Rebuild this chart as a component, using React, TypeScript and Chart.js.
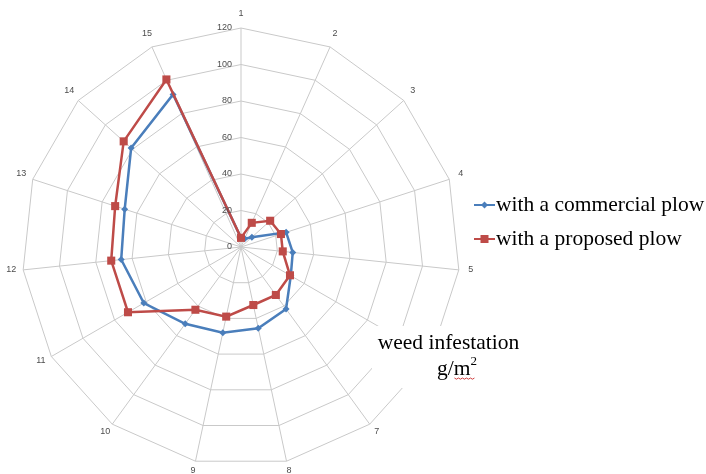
import { useEffect, useRef } from 'react';
import { Chart, registerables } from 'chart.js';

Chart.register(...registerables);

const AXIS_LABELS = ['1', '2', '3', '4', '5', '6', '7', '8', '9', '10', '11', '12', '13', '14', '15'];
const HIDDEN_LABEL_INDEX = 5; // label "6" sits under the annotation box
const COMMERCIAL = [5, 5, 8, 26, 28.5, 31.5, 42, 45.5, 48, 52, 61.5, 66, 67, 81, 91.5];
const PROPOSED = [5, 14.5, 21.5, 23, 23, 31, 32.5, 32.5, 39, 42.5, 71.5, 71.5, 72.5, 86.5, 100.5];
const TICK_VALUES = [0, 20, 40, 60, 80, 100, 120];
const SERIES_NAMES = ['with a commercial plow', 'with a proposed plow'];
const ANNOTATION_LINE1 = 'weed infestation';
const ANNOTATION_UNIT = 'g/m';
const ANNOTATION_SUP = '2';

const BLUE = '#4a7ebb';
const RED = '#be4b48';
const GRID = '#c9c9c9';
const LABEL_COLOR = '#4d4d4d';
const SANS = '"Liberation Sans", Arial, sans-serif';
const SERIF = '"Liberation Serif", "Times New Roman", serif';

const decorPlugin = {
  id: 'decor',
  afterDraw(chart: any) {
    const ctx: CanvasRenderingContext2D = chart.ctx;
    const scale = chart.scales.r;
    ctx.save();

    // tick labels (right-aligned, left of axis 1)
    ctx.font = `9px ${SANS}`;
    ctx.fillStyle = LABEL_COLOR;
    ctx.textAlign = 'right';
    ctx.textBaseline = 'middle';
    TICK_VALUES.forEach((v) => {
      const d = scale.getDistanceFromCenterForValue(v);
      ctx.fillText(String(v), scale.xCenter - 9, scale.yCenter - d);
    });

    // point labels
    ctx.textAlign = 'center';
    AXIS_LABELS.forEach((lab, i) => {
      if (i === HIDDEN_LABEL_INDEX) return;
      const p = scale.getPointPosition(i, scale.drawingArea + 12);
      ctx.fillText(lab, p.x, p.y - 2);
    });

    // annotation box
    ctx.fillStyle = '#ffffff';
    ctx.fillRect(372, 326, 162, 62);
    ctx.fillStyle = '#000000';
    ctx.font = `21.5px ${SERIF}`;
    ctx.textAlign = 'center';
    ctx.textBaseline = 'middle';
    ctx.fillText(ANNOTATION_LINE1, 448.5, 343);
    ctx.textAlign = 'left';
    const unitW = ctx.measureText(ANNOTATION_UNIT).width;
    const ux = 437;
    ctx.fillText(ANNOTATION_UNIT, ux, 369);
    ctx.font = `13px ${SERIF}`;
    ctx.fillText(ANNOTATION_SUP, ux + unitW, 362);
    // spell-check squiggle
    ctx.strokeStyle = '#d04040';
    ctx.lineWidth = 1;
    ctx.beginPath();
    const sx0 = ux + unitW - 16;
    for (let k = 0; k <= 10; k++) {
      const x = sx0 + k * 2;
      const y = 378 + (k % 2 === 0 ? 0 : 1.2);
      if (k === 0) ctx.moveTo(x, y);
      else ctx.lineTo(x, y);
    }
    ctx.stroke();

    // legend
    chart.data.datasets.forEach((ds: any, i: number) => {
      const y = 205 + i * 34;
      ctx.strokeStyle = ds.borderColor;
      ctx.lineWidth = 2;
      ctx.beginPath();
      ctx.moveTo(474, y);
      ctx.lineTo(495, y);
      ctx.stroke();
      ctx.fillStyle = ds.borderColor;
      const cx = 484.5;
      if (ds.pointStyle === 'rectRot') {
        ctx.beginPath();
        ctx.moveTo(cx, y - 3.5);
        ctx.lineTo(cx + 3.5, y);
        ctx.lineTo(cx, y + 3.5);
        ctx.lineTo(cx - 3.5, y);
        ctx.closePath();
        ctx.fill();
      } else {
        ctx.fillRect(cx - 4, y - 4, 8, 8);
      }
      ctx.fillStyle = '#000000';
      ctx.font = `21.5px ${SERIF}`;
      ctx.textAlign = 'left';
      ctx.textBaseline = 'middle';
      ctx.fillText(SERIES_NAMES[i], 496, y);
    });

    ctx.restore();
  },
};

export default function App() {
  const canvasRef = useRef<HTMLCanvasElement | null>(null);

  useEffect(() => {
    if (!canvasRef.current) return;
    const chart = new Chart(canvasRef.current, {
      type: 'radar',
      data: {
        labels: AXIS_LABELS,
        datasets: [
          {
            label: SERIES_NAMES[0],
            data: COMMERCIAL,
            borderColor: BLUE,
            backgroundColor: BLUE,
            borderWidth: 2.5,
            fill: false,
            pointStyle: 'rectRot',
            pointRadius: 3.5,
            pointBorderWidth: 0,
            pointBackgroundColor: BLUE,
            order: 2,
          },
          {
            label: SERIES_NAMES[1],
            data: PROPOSED,
            borderColor: RED,
            backgroundColor: RED,
            borderWidth: 2.5,
            fill: false,
            pointStyle: 'rect',
            pointRadius: 5.7,
            pointBorderWidth: 0,
            pointBackgroundColor: RED,
            order: 1,
          },
        ],
      },
      options: {
        responsive: false,
        animation: false,
        layout: { padding: { left: 22, top: 28, right: 246, bottom: 8 } },
        plugins: { legend: { display: false }, tooltip: { enabled: false } },
        elements: { line: { tension: 0 } },
        scales: {
          r: {
            min: 0,
            max: 120,
            beginAtZero: true,
            ticks: { display: false, stepSize: 20 },
            pointLabels: { display: false },
            grid: { color: GRID, lineWidth: 1, circular: false },
            angleLines: { color: GRID, lineWidth: 1 },
          },
        },
      },
      plugins: [decorPlugin],
    });
    return () => chart.destroy();
  }, []);

  return (
    <div style={{ position: 'absolute', left: 0, top: 0, width: 706, height: 474, background: '#ffffff' }}>
      <canvas ref={canvasRef} width={706} height={474} style={{ display: 'block' }} />
    </div>
  );
}
